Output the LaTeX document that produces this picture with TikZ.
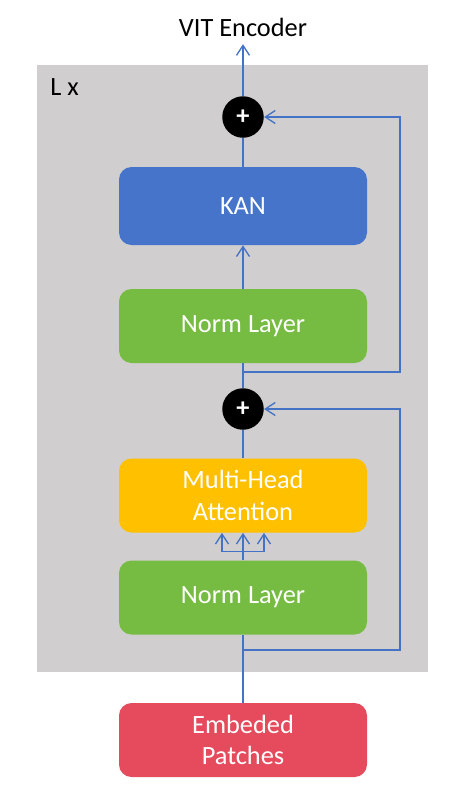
\documentclass[tikz,border=0pt]{standalone}
\usepackage{fontspec}
\setmainfont{Carlito}
\usepackage{tikz}
\usetikzlibrary{arrows.meta,positioning,calc}
\definecolor{bggray}{HTML}{D0CECE}
\definecolor{lineblue}{HTML}{4472C4}
\definecolor{kanblue}{HTML}{4674CA}
\definecolor{normgreen}{HTML}{76BB42}
\definecolor{attnorange}{HTML}{FFC000}
\definecolor{patchred}{HTML}{E54B5D}

\begin{document}
\begin{tikzpicture}[
  block/.style={rectangle, rounded corners=2.5mm, minimum width=4.96cm, minimum height=1.48cm,
    text=white, align=center, font=\fontsize{15}{18}\selectfont},
  plusnode/.style={circle, fill=black, minimum size=8.3mm, inner sep=0pt, text=white,
    font=\fontsize{15}{18}\selectfont\bfseries},
  link/.style={draw=lineblue, line width=0.75pt},
  arr/.style={link, -{Straight Barb[length=2mm,width=2.6mm]}}
]
  \useasboundingbox (0,0) rectangle (9.2,-15.78);
  \fill [bggray] (0.74,-1.3) rectangle (8.56,-13.44);

  \node (VIT) [anchor=base, font=\fontsize{15}{18}\selectfont] at (4.86,-0.72) {VIT Encoder};
  \node (LX) [anchor=west, inner sep=0pt, font=\fontsize{15}{18}\selectfont] at (1.0,-1.74) {L x};

  \node (S1) [plusnode] at (4.86,-2.34) {+};
  \node (KAN) [block, fill=kanblue, minimum height=1.56cm] at (4.86,-4.12) {KAN};
  \node (NL1) [block, fill=normgreen] at (4.86,-6.52) {Norm Layer};
  \node (S2) [plusnode] at (4.86,-8.18) {+};
  \node (MHA) [block, fill=attnorange] at (4.86,-9.91) {Multi-Head\\Attention};
  \node (NL2) [block, fill=normgreen] at (4.86,-11.95) {Norm Layer};
  \node (EP) [block, fill=patchred] at (4.86,-14.8) {Embeded\\Patches};

  \coordinate (R1) at (4.86,-7.44);
  \coordinate (R2) at (4.86,-13.0);
  \coordinate (B) at ($(NL2.north)+(0,0.17)$);

  % main path
  \draw [link] (EP.north) -- (NL2.south);
  \draw [link] (NL2.north) -- (B);
  \draw [link] ($(B)+(-0.42,0)$) -- ($(B)+(0.42,0)$);
  \foreach \dx in {-0.42,0,0.42}
    \draw [arr] ($(B)+(\dx,0)$) -- ($(MHA.south)+(\dx,0)$);
  \draw [link] (MHA) -- (S2);
  \draw [link] (S2) -- (NL1);
  \draw [arr] (NL1) -- (KAN);
  \draw [link] (KAN) -- (S1);
  \draw [arr, shorten >=1pt] (S1) -- (VIT.south);

  % residuals
  \draw [arr] (R2) -- ++(3.14,0) |- (S2.east);
  \draw [arr] (R1) -- ++(3.14,0) |- (S1.east);
\end{tikzpicture}
\end{document}
